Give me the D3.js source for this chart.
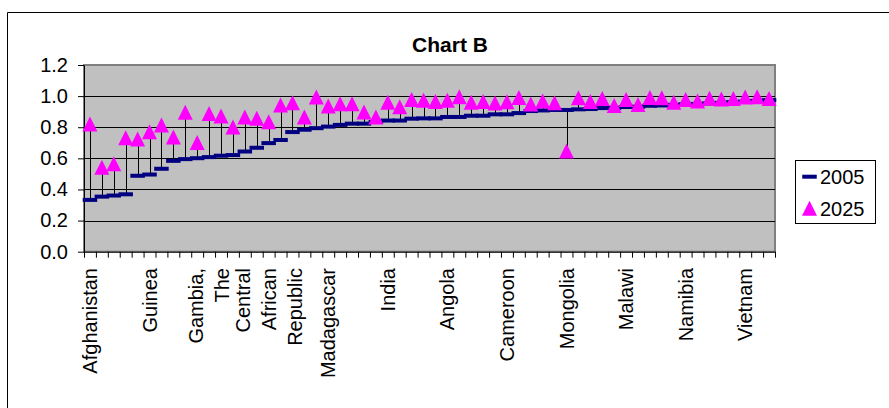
<!DOCTYPE html>
<html><head><meta charset="utf-8">
<script src="https://cdn.jsdelivr.net/npm/d3@7/dist/d3.min.js"></script>
<style>
body{margin:0;background:#fff}
svg{display:block}
text{font-family:"Liberation Sans",Arial,Helvetica,sans-serif;fill:#000}
</style>
</head><body>
<svg id="chart" width="889" height="408"></svg>
<script>
// ---- data ----
const title = "Chart B";
const seriesNames = ["2005", "2025"];
const values2005 = [
  0.333,0.354,0.361,0.369,0.488,0.496,0.533,0.584,0.595,0.601,
  0.608,0.617,0.621,0.644,0.668,0.698,0.718,0.769,0.784,0.794,
  0.804,0.815,0.823,0.823,0.834,0.843,0.843,0.855,0.857,0.857,
  0.866,0.866,0.874,0.874,0.883,0.883,0.891,0.904,0.908,0.911,
  0.911,0.915,0.917,0.923,0.925,0.930,0.932,0.938,0.940,0.944,
  0.947,0.950,0.953,0.957,0.961,0.965,0.969,0.974
];
const values2025 = [
  0.820,0.543,0.565,0.733,0.724,0.771,0.814,0.737,0.896,0.702,
  0.889,0.872,0.801,0.866,0.857,0.836,0.943,0.958,0.866,0.994,
  0.936,0.951,0.951,0.898,0.865,0.961,0.931,0.979,0.974,0.966,
  0.974,0.996,0.961,0.966,0.955,0.963,0.991,0.949,0.968,0.957,
  0.647,0.989,0.966,0.985,0.940,0.979,0.946,0.991,0.989,0.961,
  0.979,0.968,0.987,0.981,0.985,0.994,0.996,0.985
];
// only every 5th category is labelled in the reference
const labelStep = 5;
const tickLabels = ["Afghanistan","Guinea","Gambia, The","Central African Republic",
  "Madagascar","India","Angola","Cameroon","Mongolia","Malawi","Namibia","Vietnam"];
const yTicks = [0, 0.2, 0.4, 0.6, 0.8, 1.0, 1.2];

// ---- layout ----
const W = 889, H = 408;
const plot = {left: 84, right: 775, top: 65, bottom: 251.7};
const n = values2005.length;
const font = 20;

const svg = d3.select("#chart");
const x = d3.scaleBand().domain(d3.range(n)).range([plot.left, plot.right]).padding(0);
const xEdge = d3.scaleLinear().domain([0, n]).range([plot.left, plot.right]);
const y = d3.scaleLinear().domain([0, 1.2]).range([plot.bottom, plot.top]);
const cx = i => x(i) + x.bandwidth() / 2;

// outer chart frame (partly cropped in the reference)
svg.append("path").attr("d", `M7.5,${H} V12.5 H${W}`)
  .attr("fill", "none").attr("stroke", "#000").attr("stroke-width", 1);

// title
svg.append("text").attr("x", 450).attr("y", 52).attr("text-anchor", "middle")
  .style("font-size", "21px").style("font-weight", "bold").text(title);

// plot area
svg.append("rect").attr("x", plot.left).attr("y", plot.top)
  .attr("width", plot.right - plot.left).attr("height", plot.bottom - plot.top)
  .attr("fill", "#c0c0c0").attr("stroke", "#808080").attr("stroke-width", 2);

// gridlines
svg.append("g").selectAll("line").data(yTicks.filter(t => t > 0 && t < 1.2)).join("line")
  .attr("x1", plot.left).attr("x2", plot.right)
  .attr("y1", d => Math.round(y(d)) + 0.5).attr("y2", d => Math.round(y(d)) + 0.5)
  .attr("stroke", "#000").attr("stroke-width", 1);

// y axis
const gy = svg.append("g").attr("transform", `translate(${plot.left},0)`)
  .call(d3.axisLeft(y).tickValues(yTicks).tickFormat(d3.format(".1f"))
    .tickSize(6).tickSizeOuter(0).tickPadding(10));
gy.selectAll("text").style("font-size", font + "px").attr("fill", "#000");
gy.selectAll("line,path").attr("stroke", "#000");

// x axis (ticks between categories)
const gx = svg.append("g").attr("transform", `translate(0,${plot.bottom})`)
  .call(d3.axisBottom(xEdge).tickValues(d3.range(n + 1)).tickFormat("")
    .tickSize(6).tickSizeOuter(0));
gx.selectAll("line,path").attr("stroke", "#000");

// category labels (rotated, wrapped on spaces)
const lab = svg.append("g");
tickLabels.forEach((name, k) => {
  const i = k * labelStep;
  const lines = name.split(" ");
  const lh = 26;
  lines.forEach((ln, j) => {
    const off = (j - (lines.length - 1) / 2) * lh;
    lab.append("text")
      .attr("transform", `translate(${cx(i) + off},268) rotate(-90)`)
      .attr("text-anchor", "end").attr("dominant-baseline", "central")
      .style("font-size", font + "px").text(ln);
  });
});

// high-low lines
svg.append("g").selectAll("line").data(d3.range(n)).join("line")
  .attr("x1", i => Math.round(cx(i)) + 0.5).attr("x2", i => Math.round(cx(i)) + 0.5)
  .attr("y1", i => y(values2005[i])).attr("y2", i => y(values2025[i]))
  .attr("stroke", "#000").attr("stroke-width", 1);

// 2005 dash markers
const dashW = 14.5, dashH = 4;
svg.append("g").selectAll("rect").data(d3.range(n)).join("rect")
  .attr("x", i => cx(i) - dashW / 2).attr("y", i => y(values2005[i]) - dashH / 2)
  .attr("width", dashW).attr("height", dashH).attr("fill", "#000080");

// 2025 triangle markers
const tri = 7.5;
const triPath = (px, py) => `M${px},${py - tri} L${px + tri},${py + tri} L${px - tri},${py + tri} Z`;
svg.append("g").selectAll("path").data(d3.range(n)).join("path")
  .attr("d", i => triPath(cx(i), y(values2025[i])))
  .attr("fill", "#ff00ff");

// legend
const lg = svg.append("g");
lg.append("rect").attr("x", 795.5).attr("y", 160.5).attr("width", 80).attr("height", 63)
  .attr("fill", "#fff").attr("stroke", "#000").attr("stroke-width", 1);
lg.append("rect").attr("x", 809.5 - dashW / 2).attr("y", 176.7 - dashH / 2)
  .attr("width", dashW).attr("height", dashH).attr("fill", "#000080");
lg.append("text").attr("x", 820).attr("y", 183.5).style("font-size", font + "px").text(seriesNames[0]);
lg.append("path").attr("d", triPath(809.5, 208.2)).attr("fill", "#ff00ff");
lg.append("text").attr("x", 820).attr("y", 215.5).style("font-size", font + "px").text(seriesNames[1]);
</script>
</body></html>
